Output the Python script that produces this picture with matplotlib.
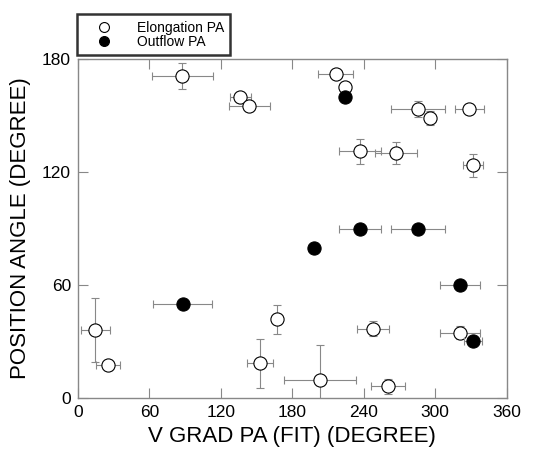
import numpy as np
import matplotlib
matplotlib.use("Agg")
import matplotlib.pyplot as plt

plt.rcParams['font.family'] = ['Liberation Sans', 'DejaVu Sans']

# Elongation PA (open circles): x, y, x error, y error
elong_x = [87.6, 136.3, 143.9, 216.4, 224.3, 285.5, 296.0, 328.7, 237.1, 267.2, 331.7,
           14.7, 25.5, 152.6, 167.4, 247.6, 320.9, 203.1, 260.2]
elong_y = [170.8, 159.6, 155.2, 172.2, 165.0, 153.5, 148.7, 153.5, 131.0, 130.1, 123.5,
           36.3, 17.5, 18.4, 41.7, 36.8, 34.7, 9.6, 6.2]
elong_xerr = [25.6, 8.7, 17.0, 14.4, 0.0, 23.0, 0.0, 12.4, 17.7, 17.7, 8.6,
              12.0, 10.0, 11.0, 0.0, 13.6, 16.6, 30.0, 14.4]
elong_yerr = [7.0, 1.5, 1.5, 0.0, 0.0, 4.4, 3.9, 0.0, 6.7, 5.6, 6.0,
              17.0, 0.0, 13.0, 7.5, 4.0, 3.3, 18.5, 4.0]

# Outflow PA (filled circles)
out_x = [224.3, 237.1, 285.5, 198.3, 320.9, 87.9, 331.4]
out_y = [159.8, 90.0, 90.0, 79.8, 60.0, 50.1, 30.1]
out_xerr = [0.0, 17.7, 23.0, 0.0, 16.6, 25.0, 7.6]
out_yerr = [0.0, 0.0, 0.0, 0.0, 0.0, 0.0, 0.0]

fig = plt.figure(figsize=(5.52, 4.57), dpi=100)
ax = fig.add_axes([0.141, 0.129, 0.777, 0.742])

err_kw = dict(ecolor='#888888', elinewidth=0.8, capsize=3, capthick=0.8, linestyle='none')
ax.errorbar(elong_x, elong_y, xerr=elong_xerr, yerr=elong_yerr, fmt='o', ms=9.5,
            mfc='white', mec='black', mew=0.8, label='Elongation PA', zorder=3, **err_kw)
ax.errorbar(out_x, out_y, xerr=out_xerr, yerr=out_yerr, fmt='o', ms=9.5,
            mfc='black', mec='black', mew=0.8, label='Outflow PA', zorder=4, **err_kw)

ax.set_xlim(0, 360)
ax.set_ylim(0, 180)
ax.set_xticks(np.arange(0, 361, 60))
ax.set_yticks(np.arange(0, 181, 60))
ax.tick_params(direction='in', length=7, color='#888888', labelsize=12.5,
               top=True, right=True, pad=5)
for s in ax.spines.values():
    s.set_color('#888888')
    s.set_linewidth(1.0)

ax.set_xlabel('V GRAD PA (FIT) (DEGREE)', fontsize=16, labelpad=4)
ax.set_ylabel('POSITION ANGLE (DEGREE)', fontsize=16, labelpad=8)

handles, labels = ax.get_legend_handles_labels()
handles = [h[0] for h in handles]
leg = ax.legend(handles, labels, loc='lower left', bbox_to_anchor=(-0.003, 1.012),
                frameon=True, fancybox=False, fontsize=10, handletextpad=0.9,
                borderpad=0.45, labelspacing=0.0, markerscale=0.75,
                handlelength=3.0, borderaxespad=0)
leg.get_frame().set_edgecolor('black')
leg.get_frame().set_linewidth(1.8)

fig.savefig('out.png', dpi=100)
